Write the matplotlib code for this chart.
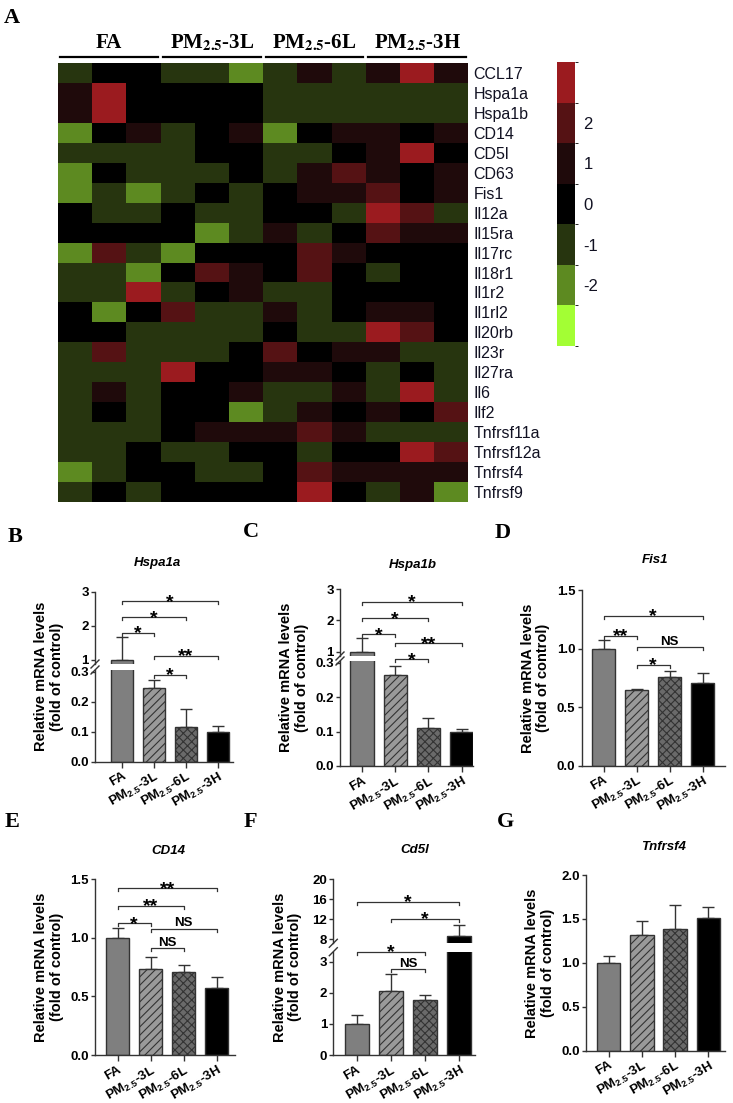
import numpy as np
import matplotlib
matplotlib.use('Agg')
import matplotlib.pyplot as plt
from matplotlib.colors import ListedColormap, BoundaryNorm
from matplotlib.lines import Line2D
from matplotlib import transforms

# ---- data ----
genes = ['CCL17', 'Hspa1a', 'Hspa1b', 'CD14', 'CD5l', 'CD63', 'Fis1', 'Il12a',
         'Il15ra', 'Il17rc', 'Il18r1', 'Il1r2', 'Il1rl2', 'Il20rb', 'Il23r',
         'Il27ra', 'Il6', 'Ilf2', 'Tnfrsf11a', 'Tnfrsf12a', 'Tnfrsf4', 'Tnfrsf9']
heat = [
    [-1, 0, 0, -1, -1, -2, -1, 1, -1, 1, 3, 1],
    [1, 3, 0, 0, 0, 0, -1, -1, -1, -1, -1, -1],
    [1, 3, 0, 0, 0, 0, -1, -1, -1, -1, -1, -1],
    [-2, 0, 1, -1, 0, 1, -2, 0, 1, 1, 0, 1],
    [-1, -1, -1, -1, 0, 0, -1, -1, 0, 1, 3, 0],
    [-2, 0, -1, -1, -1, 0, -1, 1, 2, 1, 0, 1],
    [-2, -1, -2, -1, 0, -1, 0, 1, 1, 2, 0, 1],
    [0, -1, -1, 0, -1, -1, 0, 0, -1, 3, 2, -1],
    [0, 0, 0, 0, -2, -1, 1, -1, 0, 2, 1, 1],
    [-2, 2, -1, -2, 0, 0, 0, 2, 1, 0, 0, 0],
    [-1, -1, -2, 0, 2, 1, 0, 2, 0, -1, 0, 0],
    [-1, -1, 3, -1, 0, 1, -1, -1, 0, 0, 0, 0],
    [0, -2, 0, 2, -1, -1, 1, -1, 0, 1, 1, 0],
    [0, 0, -1, -1, -1, -1, 0, -1, -1, 3, 2, 0],
    [-1, 2, -1, -1, -1, 0, 2, 0, 1, 1, -1, -1],
    [-1, -1, -1, 3, 0, 0, 1, 1, 0, -1, 0, -1],
    [-1, 1, -1, 0, 0, 1, -1, -1, 1, -1, 3, -1],
    [-1, 0, -1, 0, 0, -2, -1, 1, 0, 1, 0, 2],
    [-1, -1, -1, 0, 1, 1, 1, 2, 1, -1, -1, -1],
    [-1, -1, 0, -1, -1, 0, 0, -1, 0, 0, 3, 2],
    [-2, -1, 0, 0, -1, -1, 0, 2, 1, 1, 1, 1],
    [-1, 0, -1, 0, 0, 0, 0, 3, 0, -1, 1, -2],
]
heat_colors = ['#a3fe34', '#5d8a21', '#27350f', '#000000', '#1f0a0b', '#551214', '#9b1b1f']
group_heads = ['FA', r'PM$_{\mathbf{2.5}}$-3L', r'PM$_{\mathbf{2.5}}$-6L', r'PM$_{\mathbf{2.5}}$-3H']
bar_labels = ['FA', r'PM$_{\mathbf{2.5}}$-3L', r'PM$_{\mathbf{2.5}}$-6L', r'PM$_{\mathbf{2.5}}$-3H']

hspa1a_mean = [1.0, 0.245, 0.115, 0.10]
hspa1a_err = [0.68, 0.027, 0.06, 0.02]
hspa1a_sig = [(0, 3, 2.72, '*'), (0, 2, 2.25, '*'), (0, 1, 1.8, '*'), (1, 3, 1.12, '**'), (1, 2, 0.289, '*')]

hspa1b_mean = [1.0, 0.265, 0.11, 0.10]
hspa1b_err = [0.43, 0.025, 0.03, 0.008]
hspa1b_sig = [(0, 3, 2.6, '*'), (0, 2, 2.07, '*'), (0, 1, 1.56, '*'), (1, 3, 1.27, '**'), (1, 2, 0.31, '*')]

fis1_mean = [1.0, 0.645, 0.76, 0.71]
fis1_err = [0.07, 0.01, 0.045, 0.08]
fis1_sig = [(0, 3, 1.278, '*'), (0, 1, 1.107, '**'), (1, 3, 1.01, 'NS'), (1, 2, 0.86, '*')]

cd14_mean = [1.0, 0.73, 0.71, 0.575]
cd14_err = [0.08, 0.105, 0.055, 0.09]
cd14_sig = [(0, 3, 1.423, '**'), (0, 2, 1.275, '**'), (0, 1, 1.124, '*'), (1, 3, 1.076, 'NS'), (1, 2, 0.911, 'NS')]

cd5l_mean = [1.0, 2.07, 1.78, 8.7]
cd5l_err = [0.28, 0.53, 0.16, 2.2]
cd5l_sig = [(0, 3, 15.5, '*'), (1, 3, 12.07, '*'), (0, 2, 3.32, '*'), (1, 2, 2.75, 'NS')]

tnfrsf4_mean = [1.0, 1.32, 1.385, 1.515]
tnfrsf4_err = [0.08, 0.16, 0.275, 0.12]

bar_faces = ['#7f7f7f', '#9a9a9a', '#6a6a6a', '#000000']
bar_hatch = ['', '////', 'xxxx', '']

# ---- figure ----
W, H = 733, 1103
plt.rcParams['font.family'] = ['Liberation Sans', 'DejaVu Sans']
plt.rcParams['mathtext.fontset'] = 'custom'
plt.rcParams['mathtext.rm'] = 'Liberation Sans'
plt.rcParams['mathtext.bf'] = 'Liberation Sans:bold'
plt.rcParams['mathtext.it'] = 'Liberation Sans:italic'
plt.rcParams['axes.unicode_minus'] = False
plt.rcParams['hatch.linewidth'] = 0.8

fig = plt.figure(figsize=(W / 100, H / 100), dpi=100)
DARK = '#333333'


def px_axes(x0, y0, x1, y1):
    # pixel box measured from the top left
    return fig.add_axes([x0 / W, 1 - y1 / H, (x1 - x0) / W, (y1 - y0) / H])


def px_text(x, y, s, **kw):
    fig.text(x / W, 1 - y / H, s, **kw)


# ---- A: heatmap ----
ax = px_axes(58, 63, 468.5, 502)
cmap = ListedColormap(heat_colors)
norm = BoundaryNorm(np.arange(-3.5, 4.5, 1), cmap.N)
mesh = ax.pcolormesh(np.array(heat), cmap=cmap, norm=norm)
ax.set_xlim(0, 12)
ax.set_ylim(len(genes), 0)
ax.set_xticks([])
ax.set_yticks(np.arange(len(genes)) + 0.5, genes)
ax.yaxis.tick_right()
ax.tick_params(axis='y', length=0, pad=3.5, labelsize=11.5, labelcolor='#111122')
for s in ax.spines.values():
    s.set_visible(False)

trans = transforms.blended_transform_factory(ax.transData, ax.transAxes)
for g, name in enumerate(group_heads):
    ax.plot([g * 3 + 0.07, g * 3 + 2.93], [1.013, 1.013], transform=trans,
            color='black', lw=1.6, clip_on=False)
    ax.text(g * 3 + 1.5, 1.022, name, transform=trans, ha='center', va='bottom',
            fontsize=15, fontweight='bold', family='Liberation Serif', math_fontfamily='stix')

cax = px_axes(557, 62, 575, 346)
cb = fig.colorbar(mesh, cax=cax, ticks=[-2, -1, 0, 1, 2])
cb.outline.set_visible(False)
cax.tick_params(length=0, labelsize=12, pad=6, labelcolor='#111122')


# ---- bar panels ----
def bar_panel(xl, xr, c0, c3, lo_px, lo_lim, lo_ticks, lo_labels,
              means, errs, sig=(), up_px=None, up_lim=None, up_ticks=None, up_labels=None):
    sp = (c3 - c0) / 3
    xlim = ((xl - c0) / sp, (xr - c0) / sp)
    x = np.arange(4)
    lo = px_axes(xl, lo_px[0], xr, lo_px[1])
    axes = [(lo, lo_lim, lo_ticks, lo_labels, lo_px)]
    up = None
    if up_px is not None:
        up = px_axes(xl, up_px[0], xr, up_px[1])
        axes.append((up, up_lim, up_ticks, up_labels, up_px))
    for a, lim, ticks, labels, pxr in axes:
        for i in range(4):
            a.bar(x[i], means[i], width=0.7, color=bar_faces[i], edgecolor=DARK,
                  hatch=bar_hatch[i], lw=1.0, zorder=2)
        a.errorbar(x, means, yerr=[np.zeros(4), errs], fmt='none', ecolor=DARK,
                   elinewidth=1.0, capsize=4, capthick=1.0, zorder=1)
        a.set_xlim(*xlim)
        a.set_ylim(*lim)
        a.set_yticks(ticks, labels)
        a.patch.set_alpha(0)
        for k in ('top', 'right'):
            a.spines[k].set_visible(False)
        for k in ('left', 'bottom'):
            a.spines[k].set_linewidth(1.0)
            a.spines[k].set_color(DARK)
        a.tick_params(axis='y', length=3, width=1.0, color=DARK, pad=1.5, labelsize=9.5)
        for t in a.get_yticklabels():
            t.set_fontweight('bold')
    lo.set_xticks(x, bar_labels, rotation=30, ha='right', rotation_mode='anchor',
                  fontsize=9.5, fontweight='bold')
    lo.tick_params(axis='x', length=4, width=1.0, color=DARK, pad=2)
    if up is not None:
        up.spines['bottom'].set_visible(False)
        up.set_xticks([])
        # break marks on the y axis
        for yb in (lo_px[0], up_px[1]):
            fig.add_artist(Line2D([(xl - 4) / W, (xl + 4) / W],
                                  [1 - (yb + 4) / H, 1 - (yb - 4) / H],
                                  color=DARK, lw=1.0))
    for i, j, y, label in sig:
        if up is not None and y >= up_lim[0]:
            a, lim, pxr = up, up_lim, up_px
        else:
            a, lim, pxr = lo, lo_lim, lo_px
        h = 3 * (lim[1] - lim[0]) / (pxr[1] - pxr[0])
        a.plot([i, i, j, j], [y - h, y, y, y - h], color=DARK, lw=0.9, clip_on=False)
        if label == 'NS':
            tr = transforms.offset_copy(a.transData, fig=fig, y=2.5, units='dots')
            a.text((i + j) / 2, y, label, transform=tr, ha='center', va='baseline',
                   fontsize=9.5, fontweight='bold', clip_on=False)
        else:
            tr = transforms.offset_copy(a.transData, fig=fig, y=-1, units='dots')
            a.text((i + j) / 2, y, label, transform=tr, ha='center', va='center',
                   fontsize=14, fontweight='bold', clip_on=False)
    top = up_px[0] if up_px is not None else lo_px[0]
    px_text(xl - 46, (top + lo_px[1]) / 2, 'Relative mRNA levels\n(fold of control)',
            rotation=90, ha='center', va='center', fontsize=10.5, fontweight='bold',
            linespacing=1.1)


dec3 = ['0.0', '0.1', '0.2', '0.3']
bar_panel(95, 233, 122.2, 217.8, (670, 761.7), (0, 0.3057), [0, 0.1, 0.2, 0.3], dec3,
          hspa1a_mean, hspa1a_err, hspa1a_sig,
          up_px=(591.7, 664), up_lim=(0.882, 3), up_ticks=[1, 2, 3], up_labels=['1', '2', '3'])
bar_panel(340, 473, 362, 461.7, (661, 766), (0, 0.305), [0, 0.1, 0.2, 0.3], dec3,
          hspa1b_mean, hspa1b_err, hspa1b_sig,
          up_px=(589, 656), up_lim=(0.863, 3), up_ticks=[1, 2, 3], up_labels=['1', '2', '3'])
bar_panel(581.7, 725, 603.8, 702.7, (590, 765.7), (0, 1.5), [0, 0.5, 1.0, 1.5],
          ['0.0', '0.5', '1.0', '1.5'], fis1_mean, fis1_err, fis1_sig)
bar_panel(95, 235, 117.7, 216.7, (879.3, 1055), (0, 1.5), [0, 0.5, 1.0, 1.5],
          ['0.0', '0.5', '1.0', '1.5'], cd14_mean, cd14_err, cd14_sig)
bar_panel(333.3, 475, 356.7, 459.3, (951.7, 1055), (0, 3.32), [0, 1, 2, 3],
          ['0', '1', '2', '3'], cd5l_mean, cd5l_err, cd5l_sig,
          up_px=(879.3, 943.3), up_lim=(7.2, 20), up_ticks=[8, 12, 16, 20],
          up_labels=['8', '12', '16', '20'])
bar_panel(586, 725, 608.7, 708.3, (875, 1050.7), (0, 2.0), [0, 0.5, 1.0, 1.5, 2.0],
          ['0.0', '0.5', '1.0', '1.5', '2.0'], tnfrsf4_mean, tnfrsf4_err)

# titles
for x, y, s in [(157, 563, 'Hspa1a'), (413, 565, 'Hspa1b'), (655, 560, 'Fis1'),
                (168, 851, 'CD14'), (415, 850, 'Cd5l'), (663, 847, 'Tnfrsf4')]:
    px_text(x, y, s, ha='center', va='center', fontsize=9.5, fontweight='bold', style='italic')

# panel letters
for x, y, s in [(12, 18, 'A'), (15, 537, 'B'), (251, 532, 'C'), (503, 533, 'D'),
                (12, 822, 'E'), (250, 822, 'F'), (505, 822, 'G')]:
    px_text(x, y, s, ha='center', va='center', fontsize=16, fontweight='bold',
            family='Liberation Serif')

fig.savefig('out.png', dpi=100)
